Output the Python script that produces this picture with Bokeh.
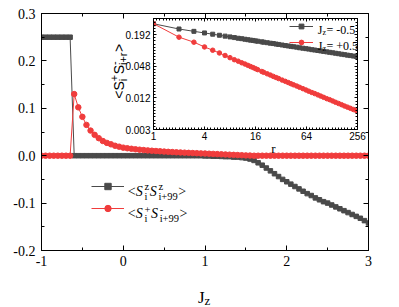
from bokeh.plotting import figure
from bokeh.models import Range1d, FixedTicker, LinearAxis, LogAxis, Label, Legend, LegendItem
from bokeh.embed import file_html
from bokeh.resources import INLINE
import math

# ---------------- data ----------------
jz = [-1.0, -0.95, -0.9, -0.85, -0.8, -0.75, -0.7, -0.65, -0.6, -0.55, -0.5, -0.45, -0.4,
      -0.35, -0.3, -0.25, -0.2, -0.15, -0.1, -0.05, 0.0, 0.05, 0.1, 0.15, 0.2, 0.25, 0.3,
      0.35, 0.4, 0.45, 0.5, 0.55, 0.6, 0.65, 0.7, 0.75, 0.8, 0.85, 0.9, 0.95, 1.0, 1.05,
      1.1, 1.15, 1.2, 1.25, 1.3, 1.35, 1.4, 1.45, 1.5, 1.55, 1.6, 1.65, 1.7, 1.75, 1.8,
      1.85, 1.9, 1.95, 2.0, 2.05, 2.1, 2.15, 2.2, 2.25, 2.3, 2.35, 2.4, 2.45, 2.5, 2.55,
      2.6, 2.65, 2.7, 2.75, 2.8, 2.85, 2.9, 2.95, 3.0]

szsz = [0.25, 0.25, 0.25, 0.25, 0.25, 0.25, 0.25, 0.25,
        0, 0, 0, 0, 0, 0, 0, 0, 0, 0, 0, 0, 0, 0, 0, 0, 0, 0, 0, 0, 0, 0, 0, 0,
        0, 0, 0, 0, 0, 0, 0, 0,
        -0.0005, -0.0005, -0.001, -0.001, -0.0015, -0.002, -0.002, -0.003, -0.003, -0.004,
        -0.005, -0.007, -0.010, -0.015, -0.020, -0.026, -0.032, -0.038, -0.044, -0.050,
        -0.055, -0.060, -0.065, -0.070, -0.075, -0.080, -0.084, -0.089, -0.093, -0.097,
        -0.100, -0.104, -0.108, -0.112, -0.116, -0.120, -0.124, -0.128, -0.132, -0.137,
        -0.142]

spsm = [0, 0, 0, 0, 0, 0, 0, 0,
        0.130, 0.102, 0.082, 0.065, 0.053, 0.044, 0.037, 0.031, 0.027, 0.024, 0.021, 0.019,
        0.017, 0.0157, 0.0146, 0.0136, 0.0127, 0.0119, 0.0112, 0.0105, 0.0099, 0.0093,
        0.0087, 0.0082, 0.0077, 0.0072, 0.0068, 0.0064, 0.0060, 0.0056, 0.0053, 0.0049,
        0.0046, 0.0042, 0.0038, 0.0034, 0.0030, 0.0026, 0.0022, 0.0018, 0.0014, 0.0010,
        0.0006, 0.0003,
        0, 0, 0, 0, 0, 0, 0, 0, 0, 0, 0, 0, 0, 0, 0, 0, 0, 0, 0, 0, 0, 0, 0, 0, 0, 0, 0, 0, 0]

x_ticks = [-1, 0, 1, 2, 3]
x_tick_labels = ["-1", "0", "1", "2", "3"]
y_ticks = [-0.2, -0.1, 0.0, 0.1, 0.2, 0.3]
y_tick_labels = ["-0.2", "-0.1", "0.0", "0.1", "0.2", "0.3"]

r = [1, 2, 3, 4, 5, 6, 7, 8, 9, 10, 11, 12, 13, 14, 15, 16, 17, 19, 20, 22, 24, 26, 28, 30,
     33, 36, 39, 42, 45, 49, 53, 58, 63, 68, 74, 80, 87, 94, 102, 111, 120, 130, 141, 153,
     166, 180, 195, 211, 229, 248, 256]
corr_m05 = [0.31, 0.246, 0.222, 0.207, 0.196, 0.187, 0.180, 0.174, 0.169, 0.164, 0.161,
            0.157, 0.154, 0.151, 0.149, 0.146, 0.144, 0.140, 0.138, 0.135, 0.132, 0.130,
            0.127, 0.125, 0.122, 0.119, 0.117, 0.115, 0.113, 0.111, 0.108, 0.106, 0.104,
            0.102, 0.0995, 0.0978, 0.0959, 0.0940, 0.0922, 0.0903, 0.0885, 0.0868, 0.0850,
            0.0832, 0.0815, 0.0799, 0.0782, 0.0767, 0.0751, 0.0736, 0.0731]
corr_p05 = [0.31, 0.172, 0.138, 0.112, 0.097, 0.086, 0.077, 0.070, 0.064, 0.060, 0.056,
            0.053, 0.050, 0.0475, 0.0453, 0.0432, 0.0414, 0.0382, 0.0368, 0.0345, 0.0326,
            0.0308, 0.0293, 0.0280, 0.0262, 0.0248, 0.0235, 0.0223, 0.0213, 0.0202, 0.0191,
            0.0180, 0.0170, 0.0161, 0.0152, 0.0145, 0.0137, 0.0130, 0.0123, 0.0116, 0.0111,
            0.0105, 0.0099, 0.0094, 0.0089, 0.0084, 0.0080, 0.0076, 0.0072, 0.0069, 0.0067]

r_ticks = [1, 4, 16, 64, 256]
r_tick_labels = ["1", "4", "16", "64", "256"]
c_ticks = [0.003, 0.012, 0.048, 0.192]
c_tick_labels = ["0.003", "0.012", "0.048", "0.192"]

# ---------------- styles ----------------
SERIF = "Liberation Serif"
SANS = "Liberation Sans"
BLACK = "#4a4a4a"
RED = "#f03c3c"

W_SERIF = {'<': 0.564, '>': 0.564, 'S': 0.556, 'z': 0.444, 'i': 0.278, '+': 0.564, '-': 0.333,
           '9': 0.5, '0': 0.5, '5': 0.5, '.': 0.25, '=': 0.564, ' ': 0.25, 'J': 0.389, 'r': 0.333}
W_SANS = {'<': 0.584, '>': 0.584, 'S': 0.667, '+': 0.584, '-': 0.333, 'i': 0.222, 'r': 0.333}

MAIN_W, MAIN_H = 395, 307


def tw(s, size, table):
    return sum(table.get(c, 0.5) for c in s) * size


def put(fig, x, y, txt, font, size, italic=False, angle=0.0):
    fig.add_layout(Label(x=x, y=y, x_units="screen", y_units="screen", text=txt,
                         text_font=font, text_font_size=f"{size}px",
                         text_font_style="italic" if italic else "normal",
                         text_color="black", text_align="left",
                         text_baseline="alphabetic", angle=angle))


def rich(fig, x, y, runs, font, size, ssize, table, up, dn, angle=0.0):
    pos = 0.0

    def place(txt, sz, off, it):
        if angle == 0.0:
            put(fig, x + pos, y + off, txt, font, sz, it)
        else:
            put(fig, x - off, y + pos, txt, font, sz, it, angle)

    for run in runs:
        kind = run[0]
        if kind == "n":
            place(run[1], size, 0, run[2])
            pos += tw(run[1], size, table) + (1.0 if run[2] else 0.0)
        elif kind == "ss":
            place(run[1], ssize, up, False)
            place(run[2], ssize, -dn, False)
            pos += max(tw(run[1], ssize, table), tw(run[2], ssize, table)) + 0.5
        elif kind == "sub":
            place(run[1], ssize, -dn, False)
            pos += tw(run[1], ssize, table) + 0.5


def style_axis(ax, ticker, labels, show, font, size, standoff, tin, tmin):
    ax.ticker = ticker
    ax.major_tick_in = tin
    ax.major_tick_out = 0
    ax.minor_tick_in = tmin
    ax.minor_tick_out = 0
    ax.axis_line_color = "black"
    ax.major_tick_line_color = "black"
    ax.minor_tick_line_color = "black"
    if show:
        ax.major_label_overrides = labels
        ax.major_label_text_font = font
        ax.major_label_text_font_size = size
        ax.major_label_standoff = standoff
        ax.major_label_text_color = "black"
    else:
        ax.major_label_text_font_size = "0px"
        ax.major_label_text_alpha = 0
        ax.major_label_standoff = 0


# ---------------- main ----------------
p = figure(width=MAIN_W, height=MAIN_H, x_range=Range1d(-1, 3), y_range=Range1d(-0.2, 0.3),
           output_backend="svg", toolbar_location=None,
           min_border_left=41, min_border_right=27, min_border_top=13, min_border_bottom=57,
           background_fill_color="white", border_fill_color="white")
p.grid.visible = False
p.outline_line_color = "black"

xt = FixedTicker(ticks=x_ticks, minor_ticks=[-0.5, 0.5, 1.5, 2.5])
yt = FixedTicker(ticks=y_ticks, minor_ticks=[-0.15, -0.05, 0.05, 0.15, 0.25])
style_axis(p.xaxis[0], xt, dict(zip(x_ticks, x_tick_labels)), True, SERIF, "14px", 5, 5, 3)
style_axis(p.yaxis[0], yt, dict(zip(y_ticks, y_tick_labels)), True, SERIF, "14px", 6, 5, 3)
mt = LinearAxis()
style_axis(mt, xt, None, False, SERIF, "0px", 0, 5, 3)
p.add_layout(mt, "above")
mr = LinearAxis()
style_axis(mr, yt, None, False, SERIF, "0px", 0, 5, 3)
p.add_layout(mr, "right")

lb = p.line(jz, szsz, line_color=BLACK, line_width=1)
sb = p.scatter(jz, szsz, marker="square", size=4.5, fill_color=BLACK, line_color=BLACK)
lr = p.line(jz, spsm, line_color=RED, line_width=1)
sr = p.scatter(jz, spsm, marker="circle", size=5.5, fill_color=RED, line_color=RED)

leg = Legend(items=[LegendItem(label=" ", renderers=[lb, sb]),
                    LegendItem(label=" ", renderers=[lr, sr])],
             location=(50, 34), glyph_width=33, glyph_height=16, label_height=16,
             spacing=6, padding=0, margin=0, border_line_color=None,
             background_fill_alpha=0, label_text_font_size="1px", label_standoff=0)
p.add_layout(leg)

# ---------------- inset ----------------
INS_W, INS_H = 275, 143
ins = figure(width=INS_W, height=INS_H, x_axis_type="log", y_axis_type="log",
             x_range=Range1d(1, 256), y_range=Range1d(0.003, 0.39),
             output_backend="svg", toolbar_location=None,
             min_border_left=57, min_border_right=14, min_border_top=8, min_border_bottom=24,
             background_fill_color="white", border_fill_color=None)
ins.margin = (-(MAIN_H - 10), 0, 0, 96)
ins.grid.visible = False
ins.outline_line_color = "black"

r_minor = [2 ** (j / 8) for j in range(1, 64) if j % 16]
c_minor = [0.003 * 4 ** (j / 10) for j in range(1, 36) if j % 10]
rt = FixedTicker(ticks=r_ticks, minor_ticks=r_minor)
ct = FixedTicker(ticks=c_ticks, minor_ticks=c_minor)
style_axis(ins.xaxis[0], rt, dict(zip(r_ticks, r_tick_labels)), True, SANS, "10px", 2, 3, 2)
style_axis(ins.yaxis[0], ct, dict(zip(c_ticks, c_tick_labels)), True, SANS, "10px", 3, 3, 2)
ax_t = LogAxis()
style_axis(ax_t, rt, None, False, SANS, "0px", 0, 3, 2)
ins.add_layout(ax_t, "above")
ax_r = LogAxis()
style_axis(ax_r, ct, None, False, SANS, "0px", 0, 3, 2)
ins.add_layout(ax_r, "right")

il1 = ins.line(r, corr_m05, line_color=BLACK, line_width=1)
is1 = ins.scatter(r, corr_m05, marker="square", size=4, fill_color=BLACK, line_color=BLACK)
il2 = ins.line(r, corr_p05, line_color=RED, line_width=1)
is2 = ins.scatter(r, corr_p05, marker="circle", size=4.5, fill_color=RED, line_color=RED)

ileg = Legend(items=[LegendItem(label=" ", renderers=[il1, is1]),
                     LegendItem(label=" ", renderers=[il2, is2])],
              location=(136, 81), glyph_width=24, glyph_height=12, label_height=12,
              spacing=4, padding=0, margin=0, border_line_color=None,
              background_fill_alpha=0, label_text_font_size="1px", label_standoff=0)
ins.add_layout(ileg)

# ---------------- text overlay (page coordinates, y measured upward) ----------------
ov = figure(width=MAIN_W, height=MAIN_H, x_range=Range1d(0, 1), y_range=Range1d(0, 1),
            output_backend="svg", toolbar_location=None, min_border=0,
            x_axis_location=None, y_axis_location=None,
            background_fill_color=None, border_fill_color=None)
ov.margin = (-(10 + INS_H), 0, 0, 0)
ov.grid.visible = False
ov.outline_line_color = None


def Y(page_y):
    return MAIN_H - page_y


rich(ov, 127.3, Y(190.5), [("n", "<", False), ("n", "S", True), ("ss", "z", "i"),
                           ("n", "S", True), ("ss", "z", "i+99"), ("n", ">", False)],
     SERIF, 14, 10.5, W_SERIF, 4.3, 5.0)
rich(ov, 127.3, Y(213.0), [("n", "<", False), ("n", "S", True), ("ss", "+", "i"),
                           ("n", "S", True), ("ss", "-", "i+99"), ("n", ">", False)],
     SERIF, 14, 10.5, W_SERIF, 4.3, 5.0)
rich(ov, 197.5, Y(296.5), [("n", "J", False), ("sub", "z")], SERIF, 17, 13, W_SERIF, 0, 3.3)

rich(ov, 317.3, Y(29.3), [("n", "J", False), ("sub", "z"), ("n", "= -0.5", False)],
     SERIF, 12, 8, W_SERIF, 0, 2.5)
rich(ov, 317.3, Y(45.3), [("n", "J", False), ("sub", "z"), ("n", "= +0.5", False)],
     SERIF, 12, 8, W_SERIF, 0, 2.5)
rich(ov, 118.3, Y(98.3), [("n", "<", False), ("n", "S", False), ("ss", "+", "i"),
                          ("n", "S", False), ("ss", "-", "i+r"), ("n", ">", False)],
     SANS, 14, 11, W_SANS, 4.5, 4.0, angle=math.pi / 2)
put(ov, 270.8, Y(148.0), "r", SERIF, 13)

open("out.html", "w").write(file_html([p, ins, ov], INLINE))
